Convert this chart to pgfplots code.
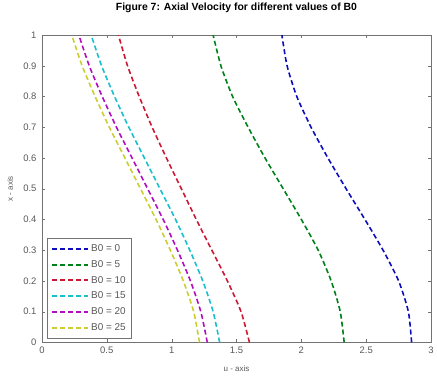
\documentclass[border=0pt]{standalone}
\usepackage{pgfplots}
\pgfplotsset{compat=1.18}
\usepackage{fontspec}
\setmainfont{Liberation Sans}
\definecolor{mblue}{rgb}{0.05,0.05,0.75}
\definecolor{mgreen}{rgb}{0,0.5,0.1}
\definecolor{mred}{rgb}{0.8,0.1,0.2}
\definecolor{mcyan}{rgb}{0.1,0.75,0.8}
\definecolor{mmag}{rgb}{0.7,0.05,0.75}
\definecolor{myel}{rgb}{0.8,0.8,0.2}
\definecolor{axgray}{gray}{0.45}
\begin{document}
\begin{tikzpicture}
\begin{axis}[
  width=390bp, height=308bp, scale only axis,
  clip=false,
  xmin=0, xmax=3, ymin=0, ymax=1,
  xtick={0,0.5,1,1.5,2,2.5,3},
  xticklabels={0,0.5,1,1.5,2,2.5,3},
  ytick={0,0.1,0.2,0.3,0.4,0.5,0.6,0.7,0.8,0.9,1},
  yticklabels={0,0.1,0.2,0.3,0.4,0.5,0.6,0.7,0.8,0.9,1},
  tick align=inside, tick pos=both,
  major tick length=3bp,
  axis line style={axgray, line width=0.8pt},
  tick style={axgray},
  ticklabel style={font=\fontsize{9.5}{11}\selectfont, text=black!65},
  yticklabel style={xshift=-2bp},
  xticklabel style={yshift=-1bp},
  xlabel={u - axis}, ylabel={x - axis},
  label style={font=\fontsize{8}{9}\selectfont, text=black!65},
  xlabel style={at={(0.5,-0.084)}, anchor=center},
  ylabel style={at={(-0.082,0.5)}, anchor=center, rotate=0},
  title={\textbf{Figure 7: Axial Velocity for different values of B0}},
  title style={font=\fontsize{10.5}{12}\selectfont, at={(0.5,1.068)}, anchor=center},
  legend style={at={(0.013,0.013)}, anchor=south west, draw=axgray, line width=0.8pt,
    font=\fontsize{10}{11}\selectfont, row sep=3.4pt, inner sep=4pt, text=black!65},
  legend cell align=left,
  legend image code/.code={\draw[#1, sharp plot, line width=2pt, dash pattern=on 5pt off 3pt] (0bp,0bp) -- (36bp,0bp);},
  every axis plot/.append style={line width=1.6pt, dash pattern=on 5pt off 3pt, smooth, tension=0.4},
]
\path (rel axis cs:-0.1077,-0.1136) rectangle (rel axis cs:1.0128,1.107);
\addplot[mblue] coordinates {(2.85,0) (2.825,0.1) (2.75,0.2) (2.63,0.3) (2.49,0.4) (2.345,0.5) (2.205,0.6) (2.075,0.7) (1.965,0.8) (1.89,0.9) (1.85,1)};
\addlegendentry{B0 = 0}
\addplot[mgreen] coordinates {(2.33,0) (2.30,0.1) (2.23,0.2) (2.13,0.3) (2.00,0.4) (1.86,0.5) (1.72,0.6) (1.59,0.7) (1.47,0.8) (1.38,0.9) (1.32,1)};
\addlegendentry{B0 = 5}
\addplot[mred] coordinates {(1.60,0) (1.535,0.1) (1.43,0.2) (1.31,0.3) (1.19,0.4) (1.075,0.5) (0.96,0.6) (0.85,0.7) (0.75,0.8) (0.66,0.9) (0.59,1)};
\addlegendentry{B0 = 10}
\addplot[mcyan] coordinates {(1.37,0) (1.32,0.1) (1.24,0.2) (1.14,0.3) (1.03,0.4) (0.91,0.5) (0.79,0.6) (0.67,0.7) (0.56,0.8) (0.46,0.9) (0.38,1)};
\addlegendentry{B0 = 15}
\addplot[mmag] coordinates {(1.275,0) (1.225,0.1) (1.145,0.2) (1.045,0.3) (0.935,0.4) (0.815,0.5) (0.695,0.6) (0.575,0.7) (0.465,0.8) (0.365,0.9) (0.285,1)};
\addlegendentry{B0 = 20}
\addplot[myel] coordinates {(1.215,0) (1.17,0.1) (1.09,0.2) (0.99,0.3) (0.88,0.4) (0.76,0.5) (0.64,0.6) (0.52,0.7) (0.41,0.8) (0.31,0.9) (0.23,1)};
\addlegendentry{B0 = 25}
\end{axis}
\end{tikzpicture}
\end{document}
